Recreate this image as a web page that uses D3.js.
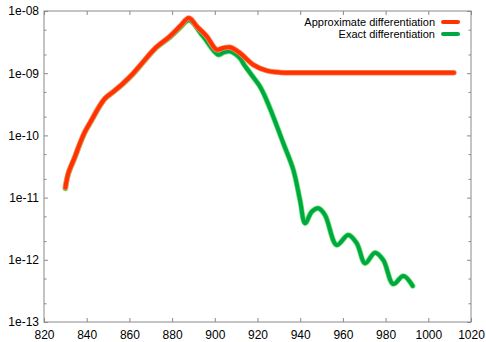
<!DOCTYPE html>
<html>
<head>
<meta charset="utf-8">
<script src="https://cdn.jsdelivr.net/npm/d3@7"></script>
<style>
  html, body { margin: 0; padding: 0; background: #fff; }
  svg { display: block; font-family: "Liberation Sans", Arial, Helvetica, sans-serif; }
</style>
</head>
<body>
<svg id="chart" width="486" height="342"></svg>
<script>
// ---- data ----
const seriesNames = ["Approximate differentiation", "Exact differentiation"];

const approxX = [830, 831.4, 834.5, 836.9, 839.2, 842.3, 845.4, 848.6, 852.5, 857.1, 861.8, 866.5, 872, 879, 883.7, 887.9, 891.5, 896.2, 900.9, 904, 907.1, 911.8, 918, 924.3, 930.5, 940, 960, 980, 1000, 1012];
const approxY = [1.45e-11, 2.46e-11, 4.55e-11, 7.55e-11, 1.15e-10, 1.77e-10, 2.73e-10, 3.95e-10, 5.04e-10, 6.88e-10, 9.95e-10, 1.53e-9, 2.5e-9, 3.92e-9, 5.68e-9, 7.71e-9, 5.68e-9, 3.92e-9, 2.39e-9, 2.55e-9, 2.61e-9, 2.11e-9, 1.37e-9, 1.10e-9, 1.03e-9, 1.02e-9, 1.02e-9, 1.02e-9, 1.02e-9, 1.02e-9];

const exactX = [830, 831.4, 834.5, 836.9, 839.2, 842.3, 845.4, 848.6, 852.5, 857.1, 861.8, 866.5, 872, 879, 883.7, 887.9, 894.5, 901.6, 904, 907.1, 911.8, 913.3, 916.5, 921.2, 923.5, 927.4, 932.1, 936.8, 939.9, 942.3, 945.4, 948.5, 951.6, 957.1, 962.5, 966.5, 970.4, 975, 978.9, 983.6, 988.3, 992.7];
const exactY = [1.4e-11, 2.4e-11, 4.45e-11, 7.4e-11, 1.13e-10, 1.74e-10, 2.7e-10, 3.9e-10, 5.0e-10, 6.8e-10, 9.8e-10, 1.5e-9, 2.45e-9, 3.8e-9, 5.4e-9, 7.08e-9, 3.92e-9, 1.98e-9, 2.15e-9, 2.25e-9, 1.75e-9, 1.44e-9, 1.01e-9, 6.07e-10, 4.22e-10, 2.0e-10, 7.46e-11, 2.78e-11, 9.15e-12, 3.86e-12, 5.93e-12, 6.73e-12, 5.25e-12, 1.73e-12, 2.51e-12, 1.84e-12, 8.79e-13, 1.30e-12, 9.93e-13, 4.08e-13, 5.49e-13, 3.8e-13];

const xTicks = [820, 840, 860, 880, 900, 920, 940, 960, 980, 1000, 1020];
const yTicks = [1e-13, 1e-12, 1e-11, 1e-10, 1e-9, 1e-8];
const yTickLabels = ["1e-13", "1e-12", "1e-11", "1e-10", "1e-09", "1e-08"];

// ---- layout ----
const W = 486, H = 342;
const L = 44, R = 471, T = 11, B = 322;
const red = "#ff3300", redLight = "#ff8a66";
const green = "#00a844", greenLight = "#6fe86f";
const axisColor = "#8a8a8a";

const svg = d3.select("#chart");
const x = d3.scaleLinear().domain([820, 1020]).range([L, R]);
const y = d3.scaleLog().domain([1e-13, 1e-8]).range([B, T]);

// minor ticks at 2 and 5 of each decade
const yMinor = [];
for (let e = -13; e < -8; e++) { yMinor.push(2 * Math.pow(10, e)); yMinor.push(5 * Math.pow(10, e)); }

function styleAxis(g) {
  g.select(".domain").remove();
  g.selectAll(".tick line").attr("stroke", axisColor).attr("stroke-width", 1);
  g.selectAll(".tick text").attr("fill", "#000").style("font-size", "12px");
}

// bottom axis (ticks inward)
svg.append("g").attr("transform", `translate(0,${B})`)
  .call(d3.axisBottom(x).tickValues(xTicks).tickFormat(d3.format("d")).tickSizeInner(-4).tickSizeOuter(0).tickPadding(8))
  .call(styleAxis);
// top axis mirror
svg.append("g").attr("transform", `translate(0,${T})`)
  .call(d3.axisTop(x).tickValues(xTicks).tickFormat("").tickSizeInner(-4).tickSizeOuter(0))
  .call(styleAxis);
// left axis
svg.append("g").attr("transform", `translate(${L},0)`)
  .call(d3.axisLeft(y).tickValues(yTicks).tickFormat((d, i) => yTickLabels[i]).tickSizeInner(-4).tickSizeOuter(0).tickPadding(5))
  .call(styleAxis);
svg.append("g").attr("transform", `translate(${L},0)`)
  .call(d3.axisLeft(y).tickValues(yMinor).tickFormat("").tickSizeInner(-2.5).tickSizeOuter(0))
  .call(styleAxis);
// right axis mirror
svg.append("g").attr("transform", `translate(${R},0)`)
  .call(d3.axisRight(y).tickValues(yTicks).tickFormat("").tickSizeInner(-4).tickSizeOuter(0))
  .call(styleAxis);
svg.append("g").attr("transform", `translate(${R},0)`)
  .call(d3.axisRight(y).tickValues(yMinor).tickFormat("").tickSizeInner(-2.5).tickSizeOuter(0))
  .call(styleAxis);

// frame
svg.append("rect").attr("x", L).attr("y", T).attr("width", R - L).attr("height", B - T)
  .attr("fill", "none").attr("stroke", axisColor).attr("stroke-width", 1);

// lines
const line = d3.line().x(d => x(d[0])).y(d => y(d[1])).curve(d3.curveCatmullRom.alpha(0.5));
const approx = approxX.map((v, i) => [v, approxY[i]]);
const exact = exactX.map((v, i) => [v, exactY[i]]);

function drawSeries(data, col, light) {
  svg.append("path").datum(data).attr("d", line).attr("fill", "none")
    .attr("stroke", light).attr("stroke-width", 5.5).attr("stroke-linejoin", "round").attr("stroke-linecap", "round");
  svg.append("path").datum(data).attr("d", line).attr("fill", "none")
    .attr("stroke", col).attr("stroke-width", 4).attr("stroke-linejoin", "round").attr("stroke-linecap", "round");
}
drawSeries(exact, green, greenLight);
drawSeries(approx, red, redLight);

// legend
const legend = svg.append("g");
const legendCols = [red, green];
seriesNames.forEach((name, i) => {
  const yy = 22 + i * 12;
  legend.append("text").attr("x", 435).attr("y", yy).attr("dy", "0.35em")
    .attr("text-anchor", "end").style("font-size", "11px").attr("fill", "#000").text(name);
  legend.append("line").attr("x1", 443).attr("x2", 458).attr("y1", yy).attr("y2", yy)
    .attr("stroke", legendCols[i]).attr("stroke-width", 4).attr("stroke-linecap", "round");
});
</script>
</body>
</html>
